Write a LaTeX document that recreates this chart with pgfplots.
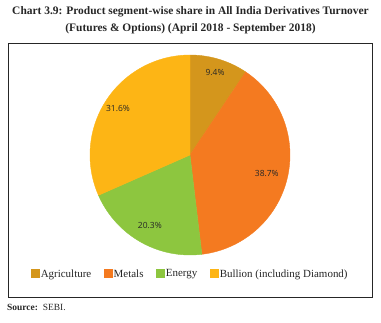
\documentclass[border=0pt]{standalone}
\usepackage{pgfplots}
\pgfplotsset{compat=1.18}
\usepackage{fontspec}
\setmainfont{Liberation Serif}
\newfontfamily\labfont{Open Sans}
\definecolor{agri}{HTML}{D4961C}
\definecolor{metal}{HTML}{F47A20}
\definecolor{energy}{HTML}{8DC63F}
\definecolor{bullion}{HTML}{FDB515}
\begin{document}
\begin{tikzpicture}[x=1bp,y=1bp]
\useasboundingbox (0,0) rectangle (381,323);
\node[font=\bfseries\fontsize{11.5}{13}\selectfont, text=black!85] at (190.5,311.5) {Chart 3.9: Product segment-wise share in All India Derivatives Turnover};
\node[font=\bfseries\fontsize{11.5}{13}\selectfont, text=black!85] at (190.5,294) {(Futures \& Options) (April 2018 - September 2018)};
\draw[line width=0.8bp, black!85] (8,26) rectangle (372,280);
\node[anchor=west, font=\fontsize{9.5}{11}\selectfont, text=black!85, inner sep=0pt] at (7,16) {\textbf{Source:}\ \ SEBI.};
% values (per cent)
\def\vA{9.4}\def\vB{38.7}\def\vC{20.3}\def\vD{31.6}
\pgfmathsetmacro\tA{90}
\pgfmathsetmacro\tB{\tA-3.6*\vA}
\pgfmathsetmacro\tC{\tB-3.6*\vB}
\pgfmathsetmacro\tD{\tC-3.6*\vC}
\pgfmathsetmacro\tE{\tD-3.6*\vD}
\begin{axis}[at={(190,168)}, anchor=center, width=200bp, height=200bp, scale only axis,
  xmin=-1, xmax=1, ymin=-1, ymax=1, hide axis, clip=false,
  legend columns=4,
  legend style={at={(0.5,-0.095)}, anchor=center, draw=none, fill=none,
    font=\fontsize{11}{13}\selectfont, text=black!85, column sep=0bp,
    /tikz/every node/.append style={inner xsep=1.5bp}},
  legend image code/.code={\fill[#1] (0bp,-3.5bp) rectangle (8bp,4.5bp);},
  samples=80]
\addplot[fill=agri, draw=agri, domain=\tB:\tA] ({cos(x)},{sin(x)}) -- (axis cs:0,0) -- cycle;
\addlegendentry{Agriculture\rule{11bp}{0pt}}
\addplot[fill=metal, draw=metal, domain=\tC:\tB] ({cos(x)},{sin(x)}) -- (axis cs:0,0) -- cycle;
\addlegendentry{Metals\rule{11bp}{0pt}}
\addplot[fill=energy, draw=energy, domain=\tD:\tC] ({cos(x)},{sin(x)}) -- (axis cs:0,0) -- cycle;
\addlegendentry{Energy\rule{11bp}{0pt}}
\addplot[fill=bullion, draw=bullion, domain=\tE:\tD] ({cos(x)},{sin(x)}) -- (axis cs:0,0) -- cycle;
\addlegendentry{Bullion (including Diamond)}
\pgfmathsetmacro\mA{(\tA+\tB)/2}
\pgfmathsetmacro\mB{(\tB+\tC)/2}
\pgfmathsetmacro\mC{(\tC+\tD)/2}
\pgfmathsetmacro\mD{(\tD+\tE)/2}
\node[font=\labfont\fontsize{8.5}{10}\selectfont, text=black!85] at (axis cs:{0.86*cos(\mA)},{0.86*sin(\mA)}) {9.4\%};
\node[font=\labfont\fontsize{8.5}{10}\selectfont, text=black!85] at (axis cs:{0.79*cos(\mB)},{0.79*sin(\mB)}) {38.7\%};
\node[font=\labfont\fontsize{8.5}{10}\selectfont, text=black!85] at (axis cs:{0.81*cos(\mC)},{0.81*sin(\mC)}) {20.3\%};
\node[font=\labfont\fontsize{8.5}{10}\selectfont, text=black!85] at (axis cs:{0.86*cos(\mD)},{0.86*sin(\mD)}) {31.6\%};
\end{axis}
\end{tikzpicture}
\end{document}
